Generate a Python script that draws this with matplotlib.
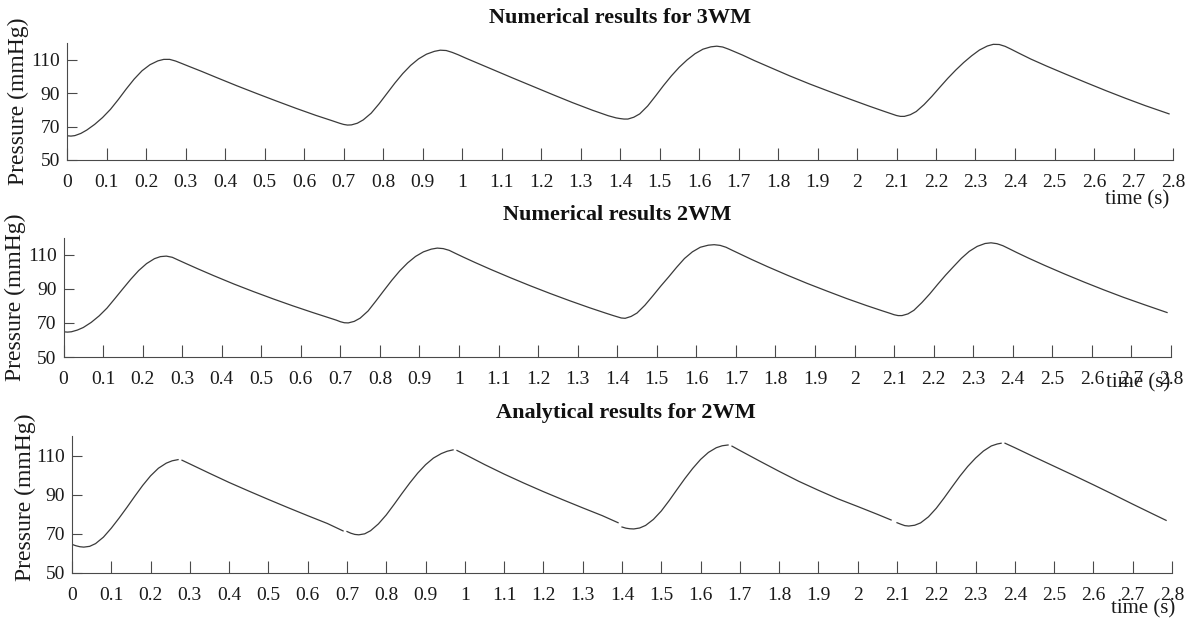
import numpy as np
import matplotlib
matplotlib.use("Agg")
import matplotlib.pyplot as plt

nan = np.nan

# ---------------- data ----------------
t_num = [0.00, 0.01, 0.02, 0.035, 0.05, 0.07, 0.09, 0.11, 0.13, 0.15, 0.17, 0.19, 0.21, 0.23, 0.245, 0.26, 0.275, 0.29, 0.31, 0.34, 0.38, 0.43, 0.48, 0.53, 0.58, 0.63, 0.67, 0.69,
         0.70, 0.71, 0.72, 0.735, 0.75, 0.77, 0.79, 0.81, 0.83, 0.85, 0.87, 0.89, 0.91, 0.93, 0.945, 0.96, 0.975, 0.99, 1.01, 1.04, 1.08, 1.13, 1.18, 1.23, 1.28, 1.33, 1.37, 1.39,
         1.40, 1.41, 1.42, 1.435, 1.45, 1.47, 1.49, 1.51, 1.53, 1.55, 1.57, 1.59, 1.61, 1.63, 1.645, 1.66, 1.675, 1.69, 1.71, 1.74, 1.78, 1.83, 1.88, 1.93, 1.98, 2.03, 2.07, 2.09,
         2.10, 2.11, 2.12, 2.135, 2.15, 2.17, 2.19, 2.21, 2.23, 2.25, 2.27, 2.29, 2.31, 2.33, 2.345, 2.36, 2.375, 2.39, 2.41, 2.44, 2.48, 2.53, 2.58, 2.63, 2.68, 2.73, 2.79]

p_3wm = [64.5, 64.3, 64.6, 65.9, 67.9, 71.3, 75.4, 80.3, 86.2, 92.5, 98.4, 103.4, 107.0, 109.3, 110.2, 110.2, 109.2, 107.8, 105.9, 103.1, 99.2, 94.4, 89.8, 85.3, 80.9, 76.7, 73.6, 72.0,
         71.3, 70.9, 71.0, 72.0, 74.0, 78.0, 83.6, 89.8, 96.0, 101.7, 106.6, 110.5, 113.3, 115.0, 115.7, 115.5, 114.4, 113.0, 110.9, 107.9, 103.9, 98.9, 94.0, 89.1, 84.3, 79.8, 76.5, 75.2,
         74.8, 74.5, 74.5, 75.6, 77.6, 82.3, 88.3, 94.5, 100.3, 105.5, 109.9, 113.6, 116.3, 117.7, 118.1, 117.6, 116.3, 114.8, 112.8, 109.5, 105.4, 100.3, 95.5, 91.0, 86.6, 82.3, 79.0, 77.4,
         76.6, 76.1, 76.1, 77.1, 79.0, 83.2, 88.2, 93.6, 98.9, 103.8, 108.3, 112.3, 115.8, 118.2, 119.2, 119.1, 118.0, 116.3, 113.9, 110.4, 106.2, 101.2, 96.3, 91.5, 86.9, 82.5, 77.6]

p_2wm_num = [64.8, 64.6, 64.8, 65.8, 67.3, 70.3, 74.1, 78.7, 84.3, 90.0, 95.6, 100.7, 104.8, 107.7, 108.9, 109.2, 108.5, 106.9, 104.8, 101.7, 97.7, 92.9, 88.4, 84.1, 80.0, 76.1, 73.1, 71.6,
             70.7, 70.1, 70.0, 70.9, 72.8, 77.0, 82.9, 89.0, 95.0, 100.5, 105.2, 109.0, 111.7, 113.3, 113.9, 113.6, 112.6, 110.9, 108.7, 105.5, 101.4, 96.5, 91.8, 87.3, 83.0, 78.9, 75.8, 74.3,
             73.6, 72.9, 72.7, 73.8, 75.8, 80.4, 85.9, 91.6, 97.0, 102.6, 107.8, 111.7, 114.4, 115.6, 115.9, 115.5, 114.4, 112.7, 110.5, 107.2, 103.0, 98.0, 93.2, 88.7, 84.3, 80.2, 77.1, 75.6,
             74.8, 74.3, 74.3, 75.3, 77.4, 81.9, 87.0, 92.6, 98.0, 103.0, 107.9, 112.0, 114.9, 116.6, 117.0, 116.5, 115.3, 113.6, 111.3, 108.0, 103.8, 98.8, 94.0, 89.4, 85.0, 80.9, 76.1]

# analytical solution: piecewise (systole / diastole); NaN separates the pieces
t_ana = [0.00, 0.01, 0.02, 0.03, 0.045, 0.06, 0.08, 0.10, 0.12, 0.14, 0.16, 0.18, 0.20, 0.22, 0.24, 0.255, 0.27, 0.275,
         0.28, 0.30, 0.35, 0.40, 0.45, 0.50, 0.55, 0.60, 0.65, 0.69, 0.695,
         0.70, 0.71, 0.72, 0.73, 0.745, 0.76, 0.78, 0.80, 0.82, 0.84, 0.86, 0.88, 0.90, 0.92, 0.94, 0.955, 0.97, 0.975,
         0.98, 1.00, 1.05, 1.10, 1.15, 1.20, 1.25, 1.30, 1.35, 1.39, 1.395,
         1.40, 1.41, 1.42, 1.43, 1.445, 1.46, 1.48, 1.50, 1.52, 1.54, 1.56, 1.58, 1.60, 1.62, 1.64, 1.655, 1.67, 1.675,
         1.68, 1.70, 1.75, 1.80, 1.85, 1.90, 1.95, 2.00, 2.05, 2.085, 2.09,
         2.10, 2.11, 2.12, 2.13, 2.145, 2.16, 2.18, 2.20, 2.22, 2.24, 2.26, 2.28, 2.30, 2.32, 2.34, 2.355, 2.365, 2.37,
         2.375, 2.40, 2.45, 2.50, 2.55, 2.60, 2.65, 2.70, 2.75, 2.785]
p_ana = [64.5, 63.8, 63.3, 63.1, 63.5, 64.9, 68.2, 72.8, 78.0, 83.5, 89.2, 94.7, 99.6, 103.5, 106.1, 107.3, 107.9, nan,
         107.6, 105.7, 100.9, 96.2, 91.8, 87.5, 83.3, 79.2, 75.2, 71.4, nan,
         71.1, 70.2, 69.6, 69.4, 69.9, 71.5, 75.0, 79.6, 85.0, 90.6, 96.0, 101.0, 105.3, 108.7, 111.0, 112.2, 112.9, nan,
         112.6, 110.6, 105.4, 100.5, 95.9, 91.5, 87.3, 83.2, 79.2, 75.6, nan,
         73.4, 72.8, 72.5, 72.4, 72.9, 74.2, 77.3, 81.6, 86.9, 92.6, 98.2, 103.4, 108.0, 111.6, 114.0, 115.0, 115.4, nan,
         114.8, 112.6, 107.2, 101.9, 96.8, 92.2, 87.8, 83.9, 79.9, 77.0, nan,
         75.6, 74.8, 74.1, 73.9, 74.3, 75.5, 78.6, 83.0, 88.3, 93.9, 99.4, 104.4, 108.7, 112.3, 114.9, 115.9, 116.3, nan,
         116.3, 114.0, 109.2, 104.5, 99.8, 95.0, 90.1, 85.1, 80.2, 76.8]

titles = ["Numerical results for 3WM", "Numerical results 2WM", "Analytical results for 2WM"]
x_ticks = [round(0.1 * i, 1) for i in range(29)]
y_ticks = [50, 70, 90, 110]
y_label = "Pressure (mmHg)"
x_label = "time (s)"

# ---------------- layout ----------------
W, H = 1192, 626
plt.rcParams['font.family'] = ['Liberation Serif', 'DejaVu Serif']
fig = plt.figure(figsize=(W / 100, H / 100), dpi=100)

def px_axes(left, right, top, bottom):
    return [left / W, 1 - bottom / H, (right - left) / W, (bottom - top) / H]

boxes = [px_axes(67, 1173, 43, 160),
         px_axes(63.5, 1171, 237.7, 357),
         px_axes(72, 1172, 436, 572.7)]
series = [(t_num, p_3wm), (t_num, p_2wm_num), (t_ana, p_ana)]
title_pos = [(620, 18), (617, 215), (626, 413)]
xlab_pos = [(0.997, -0.342), (0.999, -0.218), (1.003, -0.266)]
ylab_pos = [(-0.0443, 0.5), (-0.0438, 0.5), (-0.0427, 0.55)]

axis_col = '#4a4a4a'
line_col = '#3a3a3a'

def fmt(v):
    s = ('%.1f' % v)
    return s[:-2] if s.endswith('.0') else s

for i in range(3):
    ax = fig.add_axes(boxes[i])
    t, p = series[i]
    ax.plot(t, p, color=line_col, lw=0.9)
    ax.set_xlim(0, 2.8)
    ax.set_ylim(50, 120)
    ax.set_xticks(x_ticks)
    ax.set_xticklabels([fmt(v) for v in x_ticks])
    ax.set_yticks(y_ticks)
    for s in ['top', 'right']:
        ax.spines[s].set_visible(False)
    for s in ['left', 'bottom']:
        ax.spines[s].set_color(axis_col)
        ax.spines[s].set_linewidth(0.8)
    ax.tick_params(axis='x', direction='in', length=8.5, width=0.8, color=axis_col,
                   labelsize=14, pad=10, labelcolor='#1a1a1a')
    ax.tick_params(axis='y', direction='in', length=7, width=0.8, color=axis_col,
                   labelsize=14, pad=5, labelcolor='#1a1a1a')
    ax.set_ylabel(y_label, fontsize=17, color='#1a1a1a', va='center')
    ax.yaxis.set_label_coords(*ylab_pos[i])
    ax.set_xlabel(x_label, fontsize=15, color='#1a1a1a', ha='right', va='center')
    ax.xaxis.set_label_coords(*xlab_pos[i])
    fig.text(title_pos[i][0] / W, 1 - title_pos[i][1] / H, titles[i], fontsize=16,
             fontweight='bold', ha='center', va='center', color='#111111')

fig.savefig("out.png", dpi=100)
